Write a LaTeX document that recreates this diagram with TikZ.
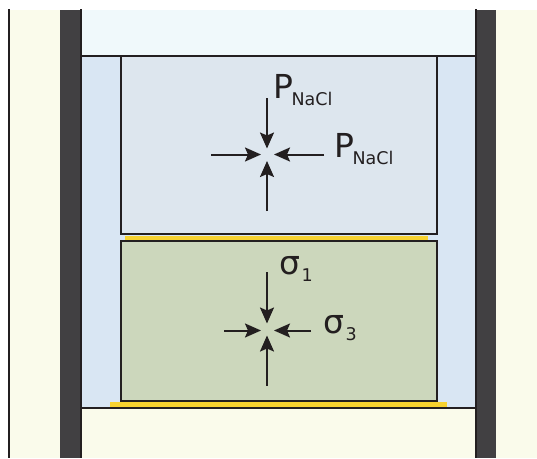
\documentclass[tikz,border=0pt]{standalone}
\usepackage{xcolor}
\usepackage{fontspec}
\setmainfont{DejaVu Sans}
\usetikzlibrary{arrows.meta}

\definecolor{cream}{HTML}{FAFBEB}
\definecolor{wall}{HTML}{414042}
\definecolor{ink}{HTML}{231F20}
\definecolor{topfluid}{HTML}{F0F9FB}
\definecolor{fluid}{HTML}{D9E6F3}
\definecolor{salt}{HTML}{DDE6EE}
\definecolor{sample}{HTML}{CCD7BC}
\definecolor{gold}{HTML}{F7D22F}

\newcommand{\stresslabel}[3]{{\fontsize{33}{33}\selectfont #1}\kern#3\raisebox{-7pt}{\fontsize{17.5}{17.5}\selectfont #2}}

\tikzset{
	outline/.style={draw=ink, line width=2pt},
	force/.style={-{Stealth[length=16pt,width=14pt,inset=3pt]}, draw=ink, line width=2pt},
	stresslab/.style={anchor=base west, inner sep=0pt, text=ink}
}

\begin{document}
\begin{tikzpicture}[x=1pt, y=-1pt]
		\useasboundingbox (0,0) rectangle (537,458);

		% housing
		\fill[cream] (10,10) rectangle (60,458);
		\fill[cream] (496,10) rectangle (537,458);
		\fill[wall] (60,10) rectangle (80,458);
		\fill[wall] (476,10) rectangle (496,458);
		\fill[topfluid] (81,10) rectangle (475,56);
		\fill[fluid] (81,56) rectangle (475,408);
		\fill[cream] (81,408) rectangle (475,458);
		\draw[outline] (9,9) -- (9,458);
		\draw[outline] (80.5,9) -- (80.5,458);
		\draw[outline] (475.5,9) -- (475.5,458);
		\draw[outline] (80.5,56) -- (475.5,56);
		\draw[outline] (80.5,408) -- (475.5,408);

		% blocks
		\draw[outline, fill=salt] (120.5,56) rectangle (436.5,234);
		\fill[gold] (125,235.5) rectangle (428,240.2);
		\draw[outline, fill=sample] (120.5,241.2) rectangle (436.5,401);
		\fill[gold] (110,402) rectangle (447,407.2);

		% upper arrows
		\coordinate (Ptop) at (267,98);
		\coordinate (Pbot) at (267,211);
		\coordinate (Pleft) at (211,154.5);
		\coordinate (Pright) at (324,154.5);
		\coordinate (PtipT) at (267,148.5);
		\coordinate (PtipB) at (267,161);
		\coordinate (PtipL) at (261,154.5);
		\coordinate (PtipR) at (274,154.5);
		\path
		(Ptop) edge[force] (PtipT)
		(Pbot) edge[force] (PtipB)
		(Pleft) edge[force] (PtipL)
		(Pright) edge[force] (PtipR);

		% lower arrows
		\coordinate (Stop) at (267,272);
		\coordinate (Sbot) at (267,385.5);
		\coordinate (Sleft) at (224,330.5);
		\coordinate (Sright) at (311,330.5);
		\coordinate (StipT) at (267,323.5);
		\coordinate (StipB) at (267,335.5);
		\coordinate (StipL) at (261,330.5);
		\coordinate (StipR) at (274,330.5);
		\path
		(Stop) edge[force] (StipT)
		(Sbot) edge[force] (StipB)
		(Sleft) edge[force] (StipL)
		(Sright) edge[force] (StipR);

		% labels
		\node[stresslab] (Plabone) at (273,98.5) {\stresslabel{P}{NaCl}{-1.5pt}};
		\node[stresslab] (Plabtwo) at (334,157) {\stresslabel{P}{NaCl}{-1.5pt}};
		\node[stresslab] (Slabone) at (279,274.5) {\stresslabel{σ}{1}{1.5pt}};
		\node[stresslab] (Slabtwo) at (323,333) {\stresslabel{σ}{3}{1.5pt}};
\end{tikzpicture}
\end{document}
